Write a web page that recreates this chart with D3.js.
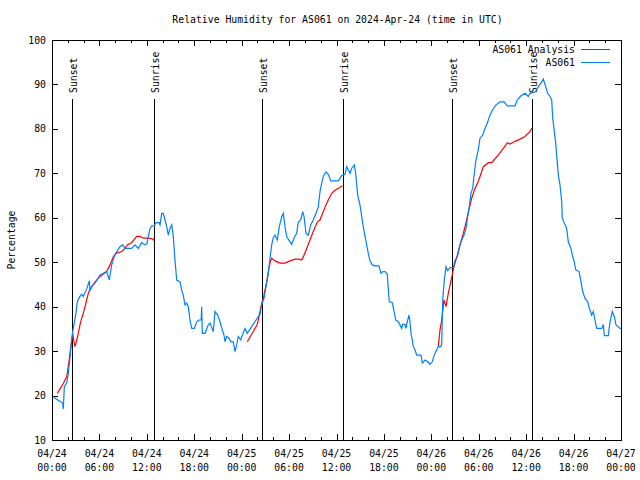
<!DOCTYPE html>
<html>
<head>
<meta charset="utf-8">
<script src="https://cdn.jsdelivr.net/npm/d3@7"></script>
<style>
  body { margin: 0; background: #fff; }
  svg { display: block; }
  text { font-family: "DejaVu Sans Mono", "Liberation Mono", monospace; font-size: 9.8px; fill: #000; }
</style>
</head>
<body>
<svg id="chart" width="640" height="480"></svg>
<script>
// ---- data (hours since 2024-04-24 00:00 UTC) ----
const chartTitle = "Relative Humidity for AS061 on 2024-Apr-24 (time in UTC)";
const yLabel = "Percentage";
const seriesNames = ["AS061 Analysis", "AS061"];
const yTicks = [10, 20, 30, 40, 50, 60, 70, 80, 90, 100];

const obsHours = [0,0.38,1.35,1.43,1.56,1.86,2.06,2.28,2.40,2.62,3.04,3.20,3.54,3.76,3.96,4.39,4.72,4.81,5.15,5.44,
  6.07,6.49,6.92,7.25,7.55,7.85,8.19,8.60,8.95,9.24,10.08,10.50,10.92,11.35,11.77,12.02,12.19,12.40,12.62,12.94,
  13.16,13.54,13.67,13.88,14.08,14.30,14.51,14.72,14.93,15.15,15.35,15.56,15.78,16.20,16.41,16.61,16.83,17.04,17.25,17.46,
  17.68,18.01,18.31,18.60,18.88,18.94,19.02,19.36,19.78,19.99,20.41,20.63,20.97,21.26,21.55,21.80,21.89,22.11,22.40,22.65,
  22.94,23.16,23.37,23.57,23.88,24.08,24.42,24.71,25.27,25.81,26.32,26.54,26.83,27.08,27.37,27.58,27.80,28.00,28.22,28.51,
  28.76,29.07,29.27,29.48,29.70,30.03,30.33,30.62,30.96,31.17,31.47,31.72,31.89,32.14,32.43,32.74,33.06,33.41,33.70,33.91,
  34.13,34.33,34.67,34.96,35.27,35.81,36.23,36.66,37.08,37.29,37.49,37.71,37.92,38.25,38.43,38.56,38.68,38.97,39.19,39.39,
  39.61,39.82,40.02,40.24,40.53,40.87,41.38,41.63,41.85,42.14,42.43,42.55,42.68,43.06,43.28,43.49,43.82,44.03,44.25,44.37,
  44.66,44.79,44.95,45.17,45.30,45.43,45.59,45.72,45.93,46.15,46.69,46.86,47.20,47.54,47.83,48.12,48.37,48.68,48.88,49.18,
  49.31,49.44,49.64,49.86,50.07,50.37,50.79,51.00,51.29,51.63,51.85,52.14,52.39,52.60,52.80,53.01,53.23,53.39,53.65,53.94,
  54.16,54.50,54.79,55.08,55.42,55.76,56.18,56.69,57.19,57.61,58.59,58.88,59.31,59.85,60.27,60.48,61.12,61.33,61.53,61.88,
  62.17,62.47,62.72,63.02,63.23,63.36,63.56,63.74,63.86,64.07,64.28,64.50,64.57,64.83,65.13,65.33,65.67,65.84,66.09,66.27,
  66.69,66.94,67.15,67.44,67.79,67.99,68.29,68.50,68.71,68.93,69.56,69.76,69.89,70.39,70.61,70.90,71.15,71.37,71.87,72.0];
const obsValues = [20.1,19.4,18.3,17.0,22.0,22.8,25.0,28.7,31.4,34.4,38.6,41.1,42.3,42.8,42.3,44.0,45.8,43.7,44.9,45.3,
  47.1,47.5,47.9,46.0,49.4,51.2,52.4,53.5,53.9,53.1,53.1,53.9,53.1,54.4,53.9,54.2,55.8,57.6,58.2,58.2,
  58.9,58.9,58.4,61.0,61.0,59.5,58.0,56.1,57.6,58.4,55.8,50.5,46.0,45.6,43.7,42.6,40.4,40.8,40.0,37.0,
  35.1,35.1,36.6,37.0,37.0,40.0,34.0,34.0,35.9,36.3,34.4,38.9,38.1,36.6,34.8,33.3,32.1,33.3,32.9,32.1,
  32.1,29.9,31.4,33.3,32.5,33.6,35.1,34.0,35.5,37.0,38.3,40.4,41.9,44.5,47.5,50.9,53.9,55.5,56.1,55.0,
  58.0,60.2,61.0,58.0,55.8,54.8,54.0,55.4,56.5,59.1,59.5,61.4,60.3,56.5,56.1,58.4,59.5,61.0,62.5,65.9,
  67.8,69.3,70.3,69.8,68.3,68.3,68.3,69.5,69.8,71.5,70.8,70.0,71.1,71.9,70.0,67.4,65.1,62.9,60.3,58.0,
  55.8,53.9,52.0,50.3,49.4,49.2,49.2,47.5,47.9,47.9,47.3,44.1,41.1,40.9,39.0,37.0,36.6,35.9,35.1,36.0,
  36.0,35.1,36.6,38.1,36.6,34.0,32.5,31.0,30.3,29.1,29.1,27.3,28.0,27.6,27.0,27.6,29.1,30.3,31.0,31.0,
  31.5,41.5,46.0,49.0,48.1,48.8,48.8,50.5,51.2,53.9,55.0,56.1,57.6,60.3,62.5,65.5,66.6,69.3,73.0,75.3,
  77.9,78.6,80.1,81.3,83.1,84.3,85.4,86.1,86.1,85.2,85.2,86.5,87.4,88.0,87.3,88.0,88.3,88.8,89.5,90.3,
  91.2,89.5,88.0,87.3,86.5,82.4,79.4,76.8,74.1,69.6,67.4,63.6,59.9,58.8,57.6,54.6,53.1,51.6,50.1,48.3,
  47.9,45.6,43.4,41.9,41.1,39.6,38.1,38.9,37.0,35.1,35.1,36.0,33.5,33.5,36.6,38.9,37.8,35.9,35.1,35.1];

// analysis: null separates the three segments
const anaHours = [0.67,1.43,1.86,2.06,2.28,2.62,2.78,2.91,3.13,3.33,3.54,3.76,3.96,4.18,4.39,4.59,4.81,5.44,6.07,6.92,
  7.34,7.76,8.10,8.82,9.24,9.53,10.08,10.72,11.14,11.55,12.19,12.82,12.94,
  null,
  24.71,25.47,25.97,26.23,26.54,26.74,26.95,27.17,27.37,27.58,27.80,28.22,28.85,29.48,30.12,30.75,31.25,31.60,31.80,32.23,
  32.65,33.06,33.57,33.91,34.25,34.67,34.96,35.39,35.81,36.44,36.73,
  null,
  48.88,49.10,49.31,49.60,49.86,50.15,50.45,50.87,51.29,51.63,52.05,52.47,52.80,53.11,53.52,53.86,54.16,54.58,55.21,55.64,
  55.93,56.47,57.11,57.61,57.95,58.59,59.22,59.85,60.48,60.74];
const anaValues = [20.5,22.7,24.2,26.5,29.5,34.0,32.1,31.0,32.5,34.0,35.9,37.4,38.5,40.0,41.5,43.0,43.9,45.5,46.8,47.9,
  49.4,51.2,52.0,52.4,53.1,53.9,54.4,55.8,55.8,55.4,55.4,55.2,54.8,
  null,
  32.1,34.4,36.0,38.1,40.8,41.9,43.7,45.6,47.9,49.8,50.9,50.3,49.8,49.8,50.3,50.7,50.7,50.5,51.2,53.1,
  55.0,56.9,59.1,59.5,61.0,62.9,64.0,65.5,66.2,66.8,67.2,
  null,
  31.0,34.8,37.0,41.5,40.0,43.0,45.5,49.0,51.6,53.9,56.5,59.5,62.1,64.4,66.6,67.8,69.3,71.5,72.4,72.4,
  73.0,74.1,75.6,76.9,76.6,77.2,77.7,78.3,79.4,80.2];

const sunHours = [2.53, 12.91, 26.57, 36.82, 50.61, 60.74];
const sunLabels = ["Sunset", "Sunrise", "Sunset", "Sunrise", "Sunset", "Sunrise"];

// ---- layout ----
const W = 640, H = 480;
const margin = { left: 52, right: 19, top: 40, bottom: 40 };
const t0 = Date.UTC(2024, 3, 24, 0, 0);
const toDate = h => new Date(t0 + h * 3600e3);

const svg = d3.select("#chart");
const x = d3.scaleUtc().domain([toDate(0), toDate(72)]).range([margin.left, W - margin.right]);
const y = d3.scaleLinear().domain([10, 100]).range([H - margin.bottom, margin.top]);

const colors = ["#ff0000", "#0080ff"];

// title
svg.append("text").attr("x", (margin.left + W - margin.right) / 2 + 1).attr("y", 23)
  .attr("text-anchor", "middle").text(chartTitle);

// y label
svg.append("text").attr("transform", `translate(15,${(margin.top + H - margin.bottom) / 2}) rotate(-90)`)
  .attr("text-anchor", "middle").text(yLabel);

// axes ticks
const majorTicks = d3.utcHour.every(6).range(toDate(0), toDate(72.01));
const minorTicks = d3.utcHour.every(2).range(toDate(0), toDate(72.01));
const axisG = svg.append("g").attr("shape-rendering", "crispEdges").attr("stroke", "#000");
const yB = H - margin.bottom, yT = margin.top, xL = margin.left, xR = W - margin.right;
minorTicks.forEach(d => {
  const len = (d.getUTCHours() % 6 === 0) ? 6 : 3;
  const px = Math.round(x(d)) + 0.5;
  axisG.append("line").attr("x1", px).attr("x2", px).attr("y1", yB).attr("y2", yB - len);
  axisG.append("line").attr("x1", px).attr("x2", px).attr("y1", yT).attr("y2", yT + len);
});
yTicks.forEach(v => {
  const py = Math.round(y(v)) + 0.5;
  axisG.append("line").attr("x1", xL).attr("x2", xL + 6).attr("y1", py).attr("y2", py);
  axisG.append("line").attr("x1", xR).attr("x2", xR - 6).attr("y1", py).attr("y2", py);
});

// y tick labels
svg.append("g").selectAll("text").data(yTicks).join("text")
  .attr("x", xL - 6).attr("y", d => y(d) + 3.5).attr("text-anchor", "end").text(d => d);

// x tick labels
const fmtDay = d3.utcFormat("%m/%d"), fmtTime = d3.utcFormat("%H:%M");
const xl = svg.append("g").selectAll("g").data(majorTicks).join("g");
xl.append("text").attr("x", d => x(d)).attr("y", 457).attr("text-anchor", "middle").text(fmtDay);
xl.append("text").attr("x", d => x(d)).attr("y", 471).attr("text-anchor", "middle").text(fmtTime);

// sunrise/sunset lines
const sunG = svg.append("g");
sunHours.forEach((h, i) => {
  const px = Math.round(x(toDate(h))) + 0.5;
  sunG.append("line").attr("x1", px).attr("x2", px).attr("y1", 99).attr("y2", yB)
    .attr("stroke", "#000").attr("shape-rendering", "crispEdges");
  sunG.append("text").attr("transform", `translate(${px + 4},93) rotate(-90)`)
    .attr("text-anchor", "start").text(sunLabels[i]);
});

// data lines
const ana = anaHours.map((h, i) => ({ h, v: anaValues[i] }));
const obs = obsHours.map((h, i) => ({ h, v: obsValues[i] }));
const line = d3.line().defined(d => d.h !== null && d.v !== null)
  .x(d => x(toDate(d.h))).y(d => y(d.v));
svg.append("path").datum(ana).attr("d", line).attr("fill", "none").attr("stroke", colors[0]).attr("stroke-width", 1.2);
svg.append("path").datum(obs).attr("d", line).attr("fill", "none").attr("stroke", colors[1]).attr("stroke-width", 1.2);

// frame
svg.append("rect").attr("x", xL + 0.5).attr("y", yT + 0.5).attr("width", xR - xL).attr("height", yB - yT)
  .attr("fill", "none").attr("stroke", "#000").attr("shape-rendering", "crispEdges");

// legend
const lg = svg.append("g");
seriesNames.forEach((name, i) => {
  const ly = 49 + i * 13;
  lg.append("text").attr("x", 575).attr("y", ly + 3.5).attr("text-anchor", "end").text(name);
  lg.append("line").attr("x1", 581).attr("x2", 610).attr("y1", ly + 0.5).attr("y2", ly + 0.5)
    .attr("stroke", colors[i]).attr("shape-rendering", "crispEdges");
});
</script>
</body>
</html>
